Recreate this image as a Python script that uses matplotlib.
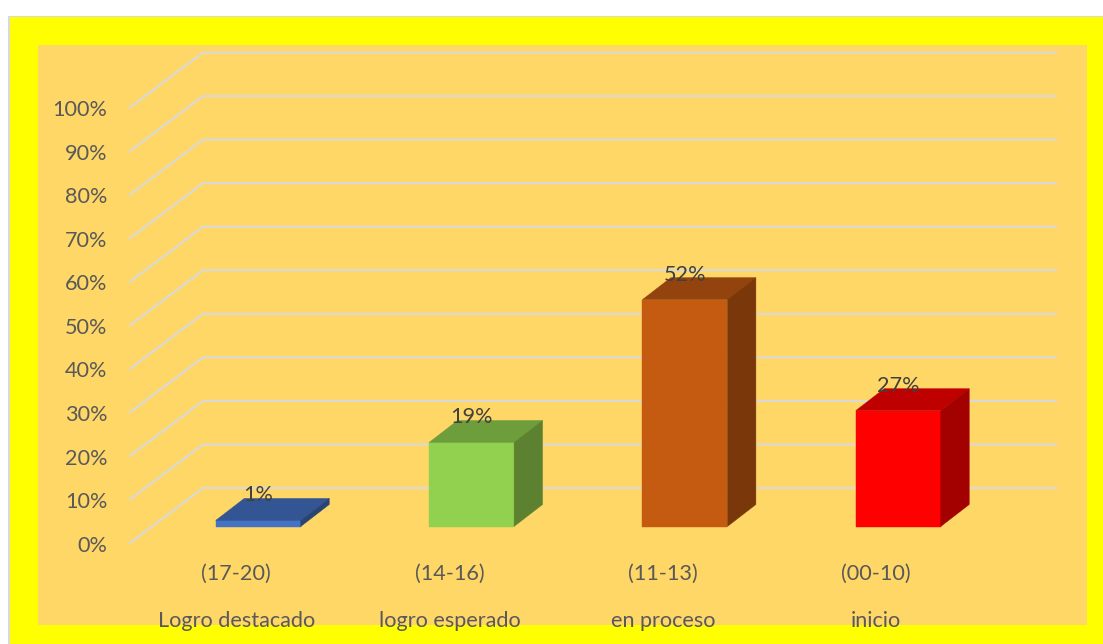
import matplotlib
matplotlib.use("Agg")
import matplotlib.pyplot as plt
from matplotlib.patches import Rectangle

ranges = ["(17-20)", "(14-16)", "(11-13)", "(00-10)"]
levels = ["Logro destacado", "logro esperado", "en proceso", "inicio"]
values = [1.4, 19.3, 52.1, 26.6]
ticks = [0, 10, 20, 30, 40, 50, 60, 70, 80, 90, 100]
front_colors = ["#4472C4", "#92D050", "#C55A11", "#FF0000"]
top_colors = ["#335593", "#6E9D3C", "#93430D", "#BF0000"]
side_colors = ["#284474", "#5C8231", "#7A370A", "#A30000"]

W, H = 1103, 644
FS = 15.6
plt.rcParams["font.family"] = ["Lato", "DejaVu Sans"]
fig = plt.figure(figsize=(W / 100, H / 100), dpi=100, facecolor="white")


def rect(x0, y0, x1, y1, fc, z):
    fig.patches.append(Rectangle((x0 / W, 1 - y1 / H), (x1 - x0) / W, (y1 - y0) / H,
                                 transform=fig.transFigure, fc=fc, ec="none", lw=0,
                                 zorder=z))


rect(8, 16, W, H, "#D9D9D9", -3)
rect(10, 17, W, H, "#FFFF00", -2)
rect(38, 45, 1087, 625, "#FFD766", -1)

# Data scale: x = category index, y = percent on the plane of the bars
px_x, px_y = 213.33, 4.355
x0_px, y0_px = 258.25, 526.5
ax = fig.add_axes([0, 0, 1, 1])
ax.set_xlim(-x0_px / px_x, (W - x0_px) / px_x)
ax.set_ylim((y0_px - H) / px_y, y0_px / px_y)
ax.axis("off")
ax.patch.set_alpha(0)

bar_w = 85 / px_x
bar_dx, bar_dy = 28.5 / px_x, 22 / px_y
floor_x_front = (130 - x0_px) / px_x
floor_x_back = (203 - x0_px) / px_x
floor_x_end = (1056 - x0_px) / px_x
floor_y_front = (y0_px - 543) / px_y
floor_y_back = (y0_px - 488) / px_y
grid_step = 43.55 / px_y / 10
tick_x = (107.5 - x0_px) / px_x

for t in ticks:
    yf = floor_y_front + t * grid_step
    yb = floor_y_back + t * grid_step
    ax.plot([floor_x_front, floor_x_back, floor_x_end], [yf, yb, yb],
            color="#D9D9D9", lw=1.5, zorder=1, solid_joinstyle="miter")
    ax.text(tick_x, yf - 0.6, f"{t}%", ha="right", va="center",
            color="#595959", fontsize=FS, zorder=5)

for i, v in enumerate(values):
    l, r = i - bar_w / 2, i + bar_w / 2
    ax.fill([l, r, r, l], [0, 0, v, v], color=front_colors[i], lw=0.3, zorder=3)
    ax.fill([l, r, r + bar_dx, l + bar_dx], [v, v, v + bar_dy, v + bar_dy],
            color=top_colors[i], lw=0.3, zorder=3)
    ax.fill([r, r + bar_dx, r + bar_dx, r], [0, bar_dy, v + bar_dy, v],
            color=side_colors[i], lw=0.3, zorder=3)
    ax.text(i, v + 25 / px_y, f"{v:.0f}%", ha="center", va="center",
            color="#404040", fontsize=FS, zorder=6)

label_shift = -22 / px_x
y_range = (y0_px - 574) / px_y
y_level = (y0_px - 621) / px_y
for i, (a, b) in enumerate(zip(ranges, levels)):
    ax.text(i + label_shift, y_range, a, ha="center", va="center",
            color="#595959", fontsize=FS, zorder=5)
    ax.text(i + label_shift, y_level, b, ha="center", va="center",
            color="#595959", fontsize=FS, zorder=5)

fig.savefig("out.png", dpi=100, facecolor="white")
